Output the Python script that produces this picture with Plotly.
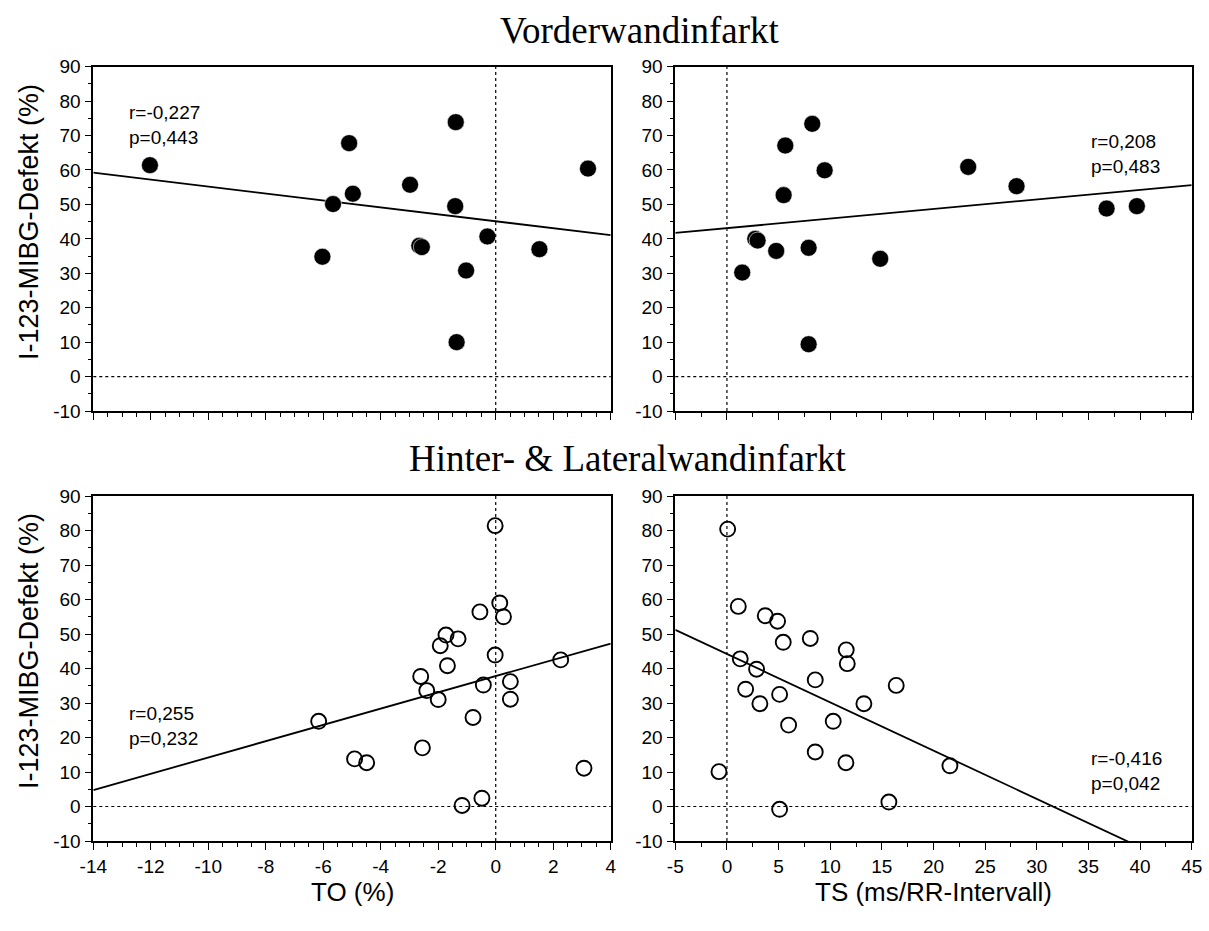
import numpy as np
import plotly.graph_objects as go

# ---------------- data ----------------
top_to_x = [-12.03, -5.10, -1.39, -2.98, -4.97, -5.66, -1.41, -0.29, -2.66, -2.57, -6.03, -1.03, -1.36, 3.21, 1.52]
top_to_y = [61.4, 67.8, 73.9, 55.7, 53.1, 50.1, 49.5, 40.7, 38.0, 37.6, 34.8, 30.8, 10.0, 60.4, 37.0]

top_ts_x = [8.26, 5.65, 9.46, 5.49, 2.74, 2.97, 4.77, 7.91, 14.84, 1.48, 7.91, 23.36, 28.04, 36.76, 39.69]
top_ts_y = [73.4, 67.1, 59.9, 52.7, 40.0, 39.5, 36.5, 37.4, 34.2, 30.2, 9.4, 60.9, 55.3, 48.8, 49.5]

bot_to_x = [-0.02, 0.14, 0.27, -0.55, -1.73, -1.31, -1.93, -0.02, -1.68, -2.61, -2.40, -2.00,
            -0.43, -0.79, -2.55, -6.16, -4.91, -4.49, -1.17, -0.48, 2.26, 0.51, 0.51, 3.07]
bot_to_y = [81.4, 59.0, 55.0, 56.4, 49.7, 48.6, 46.6, 43.9, 40.8, 37.7, 33.6, 31.0,
            35.2, 25.8, 17.0, 24.7, 13.8, 12.7, 0.3, 2.4, 42.5, 36.2, 31.1, 11.1]

bot_ts_x = [0.07, 1.10, 3.71, 4.90, 5.45, 8.07, 11.55, 11.65, 1.29, 2.87, 8.55, 16.39,
            1.81, 5.10, 3.19, 13.26, 5.97, 10.29, 8.55, 11.52, 21.59, -0.77, 15.68, 5.10]
bot_ts_y = [80.4, 58.0, 55.3, 53.7, 47.6, 48.7, 45.4, 41.4, 42.8, 39.8, 36.7, 35.1,
            34.0, 32.5, 29.8, 29.8, 23.6, 24.7, 15.8, 12.7, 11.8, 10.1, 1.3, -0.8]

# regression lines (slope, intercept) per panel: TL, TR, BL, BR
fit_slope = [-1.01, 0.278, 2.36, -1.40]
fit_intercept = [45.1, 43.1, 37.8, 44.2]

stat_r = ["r=-0,227", "r=0,208", "r=0,255", "r=-0,416"]
stat_p = ["p=0,443", "p=0,483", "p=0,232", "p=0,042"]

titles = ["Vorderwandinfarkt", "Hinter- & Lateralwandinfarkt"]
x_titles = ["TO (%)", "TS (ms/RR-Intervall)"]
y_title = "I-123-MIBG-Defekt (%)"

to_ticks = [-14, -12, -10, -8, -6, -4, -2, 0, 2, 4]
ts_ticks = [-5, 0, 5, 10, 15, 20, 25, 30, 35, 40, 45]
y_ticks = [-10, 0, 10, 20, 30, 40, 50, 60, 70, 80, 90]

to_range = [-14, 4]
ts_range = [-5, 45]
y_range = [-10, 90]

# ---------------- layout geometry ----------------
W, H = 1209, 931
def px(x):
    return x / W
def py(y):
    return 1 - y / H

xdom_left = [px(93.3), px(610.7)]
xdom_right = [px(675.3), px(1191.7)]
ydom_top = [py(411), py(66.7)]
ydom_bot = [py(841), py(496)]

FONT = "Arial, Liberation Sans, sans-serif"
SERIF = "Times New Roman, Liberation Serif, serif"

fig = go.Figure()

panels = [
    ("x", "y", top_to_x, top_to_y, True, to_range),
    ("x2", "y2", top_ts_x, top_ts_y, True, ts_range),
    ("x3", "y3", bot_to_x, bot_to_y, False, to_range),
    ("x4", "y4", bot_ts_x, bot_ts_y, False, ts_range),
]

for i, (xa, ya, xs, ys, filled, xr) in enumerate(panels):
    xl = np.array(xr, dtype=float)
    fig.add_trace(go.Scatter(
        x=xl, y=fit_slope[i] * xl + fit_intercept[i], mode="lines",
        line=dict(color="black", width=1.8), xaxis=xa, yaxis=ya,
        showlegend=False, hoverinfo="skip"))
    if filled:
        marker = dict(symbol="circle", size=17, color="black",
                      line=dict(width=0.6, color="white"))
    else:
        marker = dict(symbol="circle-open", size=15, color="black",
                      line=dict(width=1.9, color="black"))
    fig.add_trace(go.Scatter(x=xs, y=ys, mode="markers", marker=marker,
                             xaxis=xa, yaxis=ya, showlegend=False))

def xaxis_cfg(dom, anchor, rng, ticks, minor, show_labels):
    return dict(domain=dom, anchor=anchor, range=rng, automargin=False,
                tickmode="array", tickvals=ticks, ticktext=[str(t) for t in ticks],
                showgrid=False, zeroline=False, showline=True, linecolor="black",
                linewidth=1.6, mirror=True, ticks="outside", ticklen=7, tickwidth=1.3,
                tickcolor="black", showticklabels=show_labels,
                tickfont=dict(family=FONT, size=19, color="black"),
                minor=dict(tick0=rng[0], dtick=minor, ticks="outside", ticklen=4,
                           tickwidth=1.2, tickcolor="black", showgrid=False))

def yaxis_cfg(dom, anchor):
    return dict(domain=dom, anchor=anchor, range=y_range, automargin=False,
                tickmode="array", tickvals=y_ticks, ticktext=[str(t) for t in y_ticks],
                showgrid=False, zeroline=False, showline=True, linecolor="black",
                linewidth=1.6, mirror=True, ticks="outside", ticklen=7, tickwidth=1.3,
                tickcolor="black", tickfont=dict(family=FONT, size=19, color="black"),
                minor=dict(tick0=-10, dtick=5, ticks="outside", ticklen=4, tickwidth=1.2,
                           tickcolor="black", showgrid=False))

fig.update_layout(
    width=W, height=H, margin=dict(l=0, r=0, t=0, b=0, autoexpand=False),
    paper_bgcolor="white", plot_bgcolor="white", showlegend=False,
    xaxis=xaxis_cfg(xdom_left, "y", to_range, to_ticks, 0.5, False),
    xaxis2=xaxis_cfg(xdom_right, "y2", ts_range, ts_ticks, 2.5, False),
    xaxis3=xaxis_cfg(xdom_left, "y3", to_range, to_ticks, 0.5, True),
    xaxis4=xaxis_cfg(xdom_right, "y4", ts_range, ts_ticks, 2.5, True),
    yaxis=yaxis_cfg(ydom_top, "x"),
    yaxis2=yaxis_cfg(ydom_top, "x2"),
    yaxis3=yaxis_cfg(ydom_bot, "x3"),
    yaxis4=yaxis_cfg(ydom_bot, "x4"),
)

# dotted zero reference lines
for xa, ya in [("x", "y"), ("x2", "y2"), ("x3", "y3"), ("x4", "y4")]:
    fig.add_shape(type="line", xref=xa, yref=ya + " domain", x0=0, x1=0, y0=0, y1=1,
                  line=dict(color="black", width=1.2, dash="dot"))
    fig.add_shape(type="line", xref=xa + " domain", yref=ya, x0=0, x1=1, y0=0, y1=0,
                  line=dict(color="black", width=1.2, dash="dot"))

# statistics text
stat_pos = [(127, 125), (1089, 154), (127, 726), (1089, 771)]
for i, (sx, sy) in enumerate(stat_pos):
    fig.add_annotation(xref="paper", yref="paper", x=px(sx), y=py(sy),
                       xanchor="left", yanchor="middle", align="left", showarrow=False,
                       text=stat_r[i] + "<br>" + stat_p[i],
                       font=dict(family=FONT, size=19, color="black"))

# panel group titles
fig.add_annotation(xref="paper", yref="paper", x=px(640), y=py(30), xanchor="center",
                   yanchor="middle", showarrow=False, text=titles[0],
                   font=dict(family=SERIF, size=37, color="black"))
fig.add_annotation(xref="paper", yref="paper", x=px(628), y=py(458), xanchor="center",
                   yanchor="middle", showarrow=False, text=titles[1],
                   font=dict(family=SERIF, size=37, color="black"))

# axis titles
fig.add_annotation(xref="paper", yref="paper", x=px(352), y=py(892), xanchor="center",
                   yanchor="middle", showarrow=False, text=x_titles[0],
                   font=dict(family=FONT, size=26, color="black"))
fig.add_annotation(xref="paper", yref="paper", x=px(933), y=py(892), xanchor="center",
                   yanchor="middle", showarrow=False, text=x_titles[1],
                   font=dict(family=FONT, size=26, color="black"))
for cy in (222, 651):
    fig.add_annotation(xref="paper", yref="paper", x=px(29), y=py(cy), xanchor="center",
                       yanchor="middle", showarrow=False, text=y_title, textangle=-90,
                       font=dict(family=FONT, size=27, color="black"))

fig.write_html("out.html")
